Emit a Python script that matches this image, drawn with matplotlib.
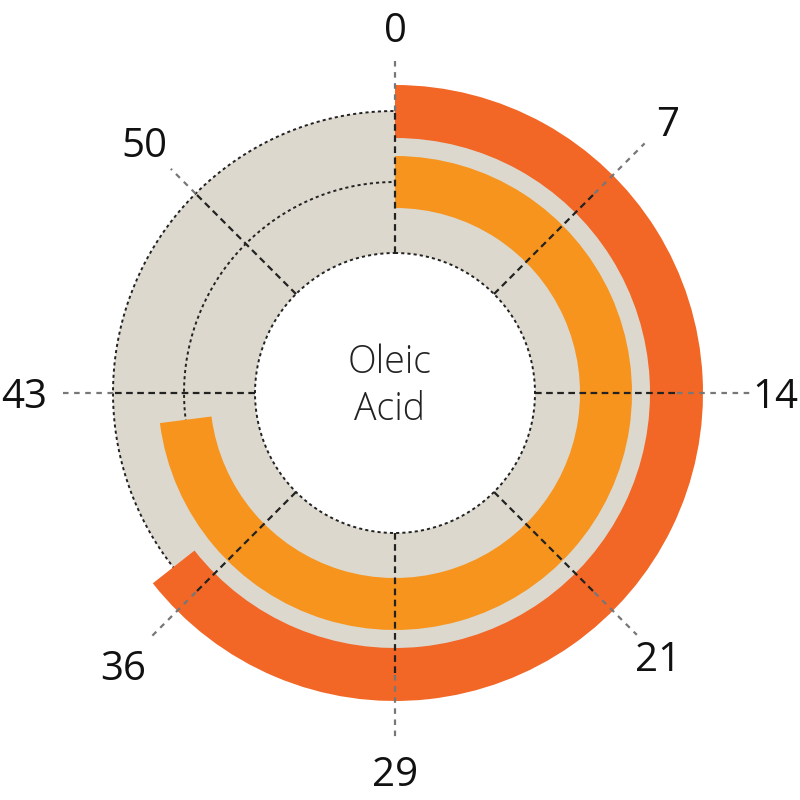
import numpy as np
import matplotlib.pyplot as plt
from matplotlib import font_manager as fm
from matplotlib.transforms import offset_copy

plt.rcParams['font.family'] = ['Open Sans', 'DejaVu Sans']

# data
full_scale = 400 / 7          # value of one full turn
tick_labels = ["0", "7", "14", "21", "29", "36", "43", "50"]
series_names = ["outer", "inner"]
series_values = [36.8, 41.7]
series_colors = ["#F26626", "#F7941E"]
center_label = "Oleic\nAcid"

# radii in pixel units (axes radius = 400 px)
ring_in, ring_out, ring_mid = 140, 282, 211
bar_radii = [(255, 308), (185, 237)]
spoke_end = [335, 353, 356, 342, 345, 347, 333, 317]
label_r = [366, 385, 380, 372, 378, 384, 371, 355]

light = [f.fname for f in fm.fontManager.ttflist
         if f.fname.endswith("OpenSans-Light.ttf")]
light_font = fm.FontProperties(fname=light[0]) if light else fm.FontProperties(weight="light")

fig = plt.figure(figsize=(8, 8), dpi=100)
ax = fig.add_axes([(395 - 400) / 800, (407 - 400) / 800, 1, 1], projection="polar")
ax.set_theta_zero_location("N")
ax.set_theta_direction(-1)
ax.set_rlim(0, 400)
ax.set_axis_off()

# grey background ring
ax.bar(0, ring_out - ring_in, width=2 * np.pi, bottom=ring_in, align="edge",
       color="#DCD8CE", linewidth=0, zorder=1)

# dotted circles
t = np.linspace(0, 2 * np.pi, 500)
for r in [ring_in, ring_mid, ring_out]:
    ax.plot(t, np.full_like(t, r), color="#222222", lw=1.4,
            linestyle=(0, (1.6, 1.6)), zorder=2)

# bars
for val, col, (r0, r1) in zip(series_values, series_colors, bar_radii):
    ax.bar(0, r1 - r0, width=val / full_scale * 2 * np.pi, bottom=r0,
           align="edge", color=col, linewidth=0, zorder=3)

# spokes and tick labels
lbl_trans = offset_copy(ax.transData, fig=fig, x=0, y=-5, units="dots")
for i, lbl in enumerate(tick_labels):
    th = i * 2 * np.pi / len(tick_labels)
    ax.plot([th, th], [ring_in, ring_out], color="#222222", lw=1.6,
            linestyle=(0, (3, 2)), zorder=4)
    ax.plot([th, th], [ring_out, spoke_end[i]], color="#777777", lw=1.6,
            linestyle=(0, (2.5, 2.5)), zorder=4)
    ax.text(th, label_r[i], lbl, ha="center", va="center", fontsize=29,
            color="#111111", zorder=5, transform=lbl_trans)

light_font.set_size(27)
fig.text(390 / 800, 1 - 386 / 800, center_label, ha="center", va="center",
         fontproperties=light_font, color="#222222", linespacing=1.3)

fig.savefig("out.png", dpi=100)
